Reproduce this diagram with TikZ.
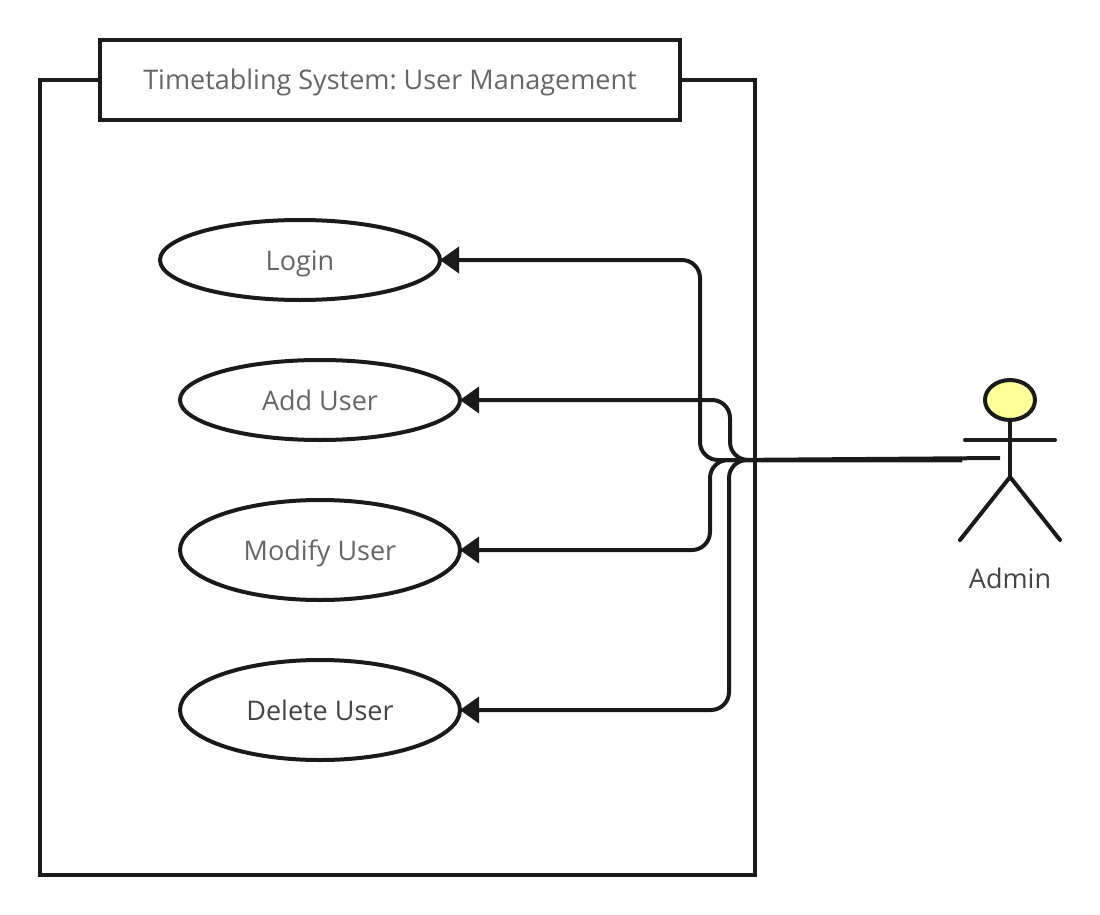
\documentclass[tikz,border=0pt]{standalone}
\usepackage{fontspec}
\setmainfont{Open Sans}
\frenchspacing
\usetikzlibrary{shapes.geometric,arrows.meta}
\definecolor{ink}{HTML}{1A1A1A}
\definecolor{softtext}{HTML}{666666}
\definecolor{darktext}{HTML}{444444}
\definecolor{headfill}{HTML}{FFFF99}
\tikzset{
  x=1pt,y=-1pt,
  every node/.style={inner sep=0pt,outer sep=0pt},
  labeltext/.style={font=\fontsize{27}{32}\selectfont,text height=20pt,text depth=0pt},
  usecase/.style={shape=ellipse,draw=ink,line width=4pt,fill=white,minimum width=280pt,labeltext,text=softtext},
  frameline/.style={draw=ink,line width=4pt,line join=miter},
  link/.style={draw=ink,line width=4pt,rounded corners=18pt,-{Triangle[length=19pt,width=27pt,round,line width=0pt]}},
  stick/.style={draw=ink,line width=4pt,line cap=round},
}
\begin{document}
\begin{tikzpicture}
\useasboundingbox (0,0) rectangle (1100,915);
\node[usecase,minimum height=80pt] (login) at (300,260) {Login};
\node[usecase,minimum height=80pt] (add) at (320,400) {Add User};
\node[usecase,minimum height=100pt] (modify) at (320,550) {Modify User};
\node[usecase,minimum height=100pt,text=darktext] (delete) at (320,710) {Delete User};
\coordinate (armA) at (962,460);
\coordinate (armB) at (1000,458);
\draw[link] (armA) -- (700,460) -- (700,260) -- (login.east);
\draw[link] (armB) -- (730,460) -- (730,400) -- (add.east);
\draw[link] (armA) -- (710,460) -- (710,550) -- (modify.east);
\draw[link] (armA) -- (729,460) -- (729,710) -- (delete.east);
\draw[frameline] (100,80) -- (40,80) -- (40,875) -- (755,875) -- (755,80) -- (680,80);
\node[draw=ink,line width=4pt,minimum width=580pt,minimum height=80pt,labeltext,text=softtext] (title) at (390,80) {Timetabling System: User Management};
\node[shape=ellipse,draw=ink,line width=4pt,fill=headfill,minimum width=50pt,minimum height=40pt] (head) at (1010,400) {};
\coordinate (hip) at (1010,477);
\coordinate (armL) at (965,440);
\coordinate (armR) at (1055,440);
\coordinate (footL) at (960,540);
\coordinate (footR) at (1060,540);
\draw[stick] (head.south) -- (hip);
\draw[stick] (armL) -- (armR);
\draw[stick] (footL) -- (hip) -- (footR);
\node[labeltext,text=darktext] (admin) at (1010,578) {Admin};
\end{tikzpicture}
\end{document}
